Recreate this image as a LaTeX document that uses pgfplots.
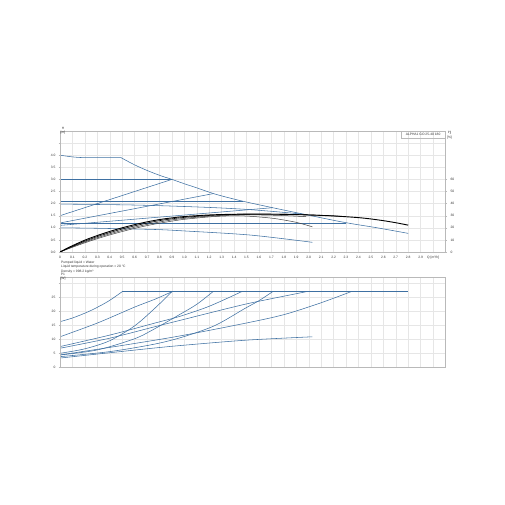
\documentclass[border=0pt]{standalone}
\usepackage{fontspec}
\setmainfont{Liberation Sans}
\usepackage{pgfplots}
\pgfplotsset{compat=1.18}
\definecolor{gblue}{RGB}{62,112,162}
\definecolor{ggrid}{RGB}{230,230,230}
\definecolor{gaxis}{RGB}{185,185,185}
\begin{document}
\begin{tikzpicture}
\path[use as bounding box] (0pt,0pt) rectangle (505pt,505pt);
\pgfplotsset{
  gbase/.style={
    scale only axis, width=385.5pt,
    xmin=0, xmax=3.1,
    xtick={0,0.1,0.2,0.3,0.4,0.5,0.6,0.7,0.8,0.9,1.0,1.1,1.2,1.3,1.4,1.5,1.6,1.7,1.8,1.9,2.0,2.1,2.2,2.3,2.4,2.5,2.6,2.7,2.8,2.9,3.0},
    grid=major, grid style={ggrid, line width=0.35pt},
    axis line style={gaxis, line width=0.4pt},
    tick style={gaxis, line width=0.3pt},
    major tick length=1.5pt, tick align=outside,
    tick label style={font=\fontsize{3.3}{4}\selectfont, text=black!80},
    /pgf/number format/assume math mode=true,
    x tick label style={yshift=0.6pt},
    y tick label style={xshift=0.4pt},
  },
  hline/.style={gblue, line width=0.55pt},
  eline/.style={black, line width=0.6pt, smooth},
}
% ---------------- top axis: H ----------------
\begin{axis}[gbase, at={(60pt,253pt)}, anchor=south west, height=121pt,
  ymin=0, ymax=5,
  ytick={0,0.5,1,1.5,2,2.5,3,3.5,4,4.5},
  yticklabels={0.0,0.5,1.0,1.5,2.0,2.5,3.0,3.5,4.0,},
  xticklabels={0,0.1,0.2,0.3,0.4,0.5,0.6,0.7,0.8,0.9,1.0,1.1,1.2,1.3,1.4,1.5,1.6,1.7,1.8,1.9,2.0,2.1,2.2,2.3,2.4,2.5,2.6,2.7,2.8,2.9,{Q [m³/h]}},
  ytick pos=left, xtick pos=bottom]
% max curve (III)
\addplot[hline, smooth] coordinates {(0,4.0)(0.1,3.93)(0.2,3.9)(0.49,3.9)};
\addplot[hline, smooth] coordinates {(0.49,3.9)(0.6,3.6)(0.7,3.37)(0.8,3.17)(0.9,3.0)(1.0,2.82)(1.1,2.65)(1.23,2.42)(1.35,2.25)(1.486,2.08)(1.71,1.83)(2.0,1.52)(2.29,1.22)(2.55,1.0)(2.8,0.77)};
% CP3, PP3
\addplot[hline] coordinates {(0,3.0)(0.9,3.0)};
\addplot[hline] coordinates {(0,1.5)(0.9,3.0)};
% CP2, PP2
\addplot[hline] coordinates {(0,2.08)(1.47,2.08)};
\addplot[hline] coordinates {(0,1.2)(1.23,2.41)};
% curve II
\addplot[hline, smooth] coordinates {(0,1.98)(0.5,1.95)(0.763,1.92)(1.0,1.88)(1.25,1.83)(1.5,1.76)(1.75,1.66)(1.98,1.55)};
% CP1, PP1
\addplot[hline] coordinates {(0,1.2)(2.3,1.2)};
\addplot[hline] coordinates {(0,1.1)(1.71,1.83)};
% curve I
\addplot[hline, smooth] coordinates {(0,1.0)(0.3,0.98)(0.763,0.93)(1.0,0.87)(1.53,0.70)(2.03,0.40)};
\draw[gaxis, line width=1.1pt] (rel axis cs:0,0) -- (rel axis cs:0,1);
\end{axis}
% ---------------- top axis: eta ----------------
\begin{axis}[gbase, at={(60pt,253pt)}, anchor=south west, height=121pt,
  ymin=0, ymax=100, grid=none,
  axis y line*=right, axis x line=none,
  ytick={0,10,20,30,40,50,60},
  y tick label style={xshift=-0.4pt}]
\addplot[eline, black!75, line width=0.5pt] coordinates {(0,0)(0.05,2)(0.1,3.9)(0.2,7.6)(0.3,11)(0.4,14.1)(0.5,16.9)(0.6,19.5)(0.7,21.8)(0.8,23.8)(0.9,25.5)(1.0,27)(1.2,29)(1.35,29.8)(1.5,29.7)(1.65,28.5)(1.75,27.3)(1.9,24.5)(2.03,20.8)};
\addplot[eline, black!80, line width=0.5pt] coordinates {(0,0)(0.05,2.2)(0.1,4.3)(0.2,8.3)(0.3,11.8)(0.4,15)(0.5,17.9)(0.6,20.5)(0.7,22.8)(0.8,24.8)(0.9,26.5)(1.0,27.8)(1.2,29.6)(1.4,30.5)(1.6,30.6)(1.8,30.1)(1.98,29.2)};
\addplot[eline] coordinates {(0,0)(0.05,2.4)(0.1,4.7)(0.2,9)(0.3,12.7)(0.4,16)(0.5,19)(0.6,21.6)(0.7,23.9)(0.8,25.9)(0.9,27.4)(1.0,28.6)(1.2,30.2)(1.4,31)(1.6,31.3)(1.8,31.2)(2.0,30.7)(2.2,29.8)(2.3,29.2)};
\addplot[eline, line width=0.9pt] coordinates {(0,0)(0.05,2.7)(0.1,5.2)(0.2,9.8)(0.3,13.6)(0.4,17)(0.5,20)(0.6,22.6)(0.7,24.9)(0.8,26.8)(0.9,28.2)(1.0,29.3)(1.2,30.6)(1.4,31.2)(1.6,31.3)(1.8,31.1)(2.0,30.6)(2.2,29.8)(2.4,28.4)(2.5,27.3)(2.6,25.9)(2.7,24.2)(2.8,22.2)};
\end{axis}
% ---------------- bottom axis: P1 ----------------
\begin{axis}[gbase, at={(60pt,137.7pt)}, anchor=south west, height=89.6pt,
  ymin=0, ymax=32,
  ytick={0,5,10,15,20,25,30},
  yticklabels={0,5,10,15,20,25,},
  xticklabels={}, ytick pos=left, xtick pos=bottom, major x tick style={draw=none}]
\addplot[hline, smooth] coordinates {(0,16.3)(0.1,17.6)(0.23,19.9)(0.35,22.6)(0.42,24.5)(0.5,27)};
\addplot[hline] coordinates {(0.5,27)(2.8,27)};
\addplot[hline, smooth] coordinates {(0,10.9)(0.3,15.8)(0.6,21.5)(0.763,24.3)(0.9,27)};
\addplot[hline, smooth] coordinates {(0,5)(0.2,6.6)(0.4,9.5)(0.6,14.8)(0.763,21.1)(0.9,27)};
\addplot[hline, smooth] coordinates {(0,7.4)(0.4,11.5)(0.763,15.8)(0.964,18.2)(1.2,21.8)(1.46,27)};
\addplot[hline, smooth] coordinates {(0,4.4)(0.3,6.2)(0.6,10.2)(0.763,13.8)(0.964,18.9)(1.1,22.5)(1.23,27)};
\addplot[hline, smooth] coordinates {(0,6.8)(0.4,10.4)(0.763,14.5)(1.04,17.6)(1.3,20.5)(1.526,22.9)(1.8,25.4)(1.98,27)};
\addplot[hline, smooth] coordinates {(0,3.8)(0.4,5.6)(0.763,8.3)(1.0,11)(1.25,15)(1.486,21)(1.6,23.8)(1.71,27)};
\addplot[hline, smooth] coordinates {(0,4.4)(0.5,7.8)(0.964,11.2)(1.486,15.7)(1.8,18.8)(2.09,22.9)(2.34,27)};
\addplot[hline, smooth] coordinates {(0,3.3)(0.4,5.2)(0.763,6.9)(1.0,7.9)(1.5,9.7)(2.03,10.9)};
\draw[gaxis, line width=1.1pt] (rel axis cs:0,0) -- (rel axis cs:0,1);
\end{axis}
% ---------------- labels ----------------
\begin{scope}[every node/.style={font=\fontsize{3.3}{4}\selectfont, inner sep=0pt, text=black!80}]
\node at (63pt,376.7pt) {H};
\node at (63pt,372.5pt) {[m]};
\node at (449.5pt,372pt) {$\eta$};
\node at (449.5pt,367.8pt) {[\%]};
\node at (63pt,230.5pt) {P1};
\node at (63pt,226.3pt) {[W]};
\node[anchor=west] at (61pt,242.5pt) {Pumped liquid = Water};
\node[anchor=west] at (61pt,238pt) {Liquid temperature during operation = 20 °C};
\node[anchor=west] at (61pt,233.5pt) {Density = 998.2 kg/m³};
\draw[gaxis, line width=0.3pt] (400.7pt,374pt) rectangle (445.5pt,366.7pt);
\node at (423.1pt,370.3pt) {ALPHA1 GO 25-40 180};
\end{scope}
\end{tikzpicture}
\end{document}
